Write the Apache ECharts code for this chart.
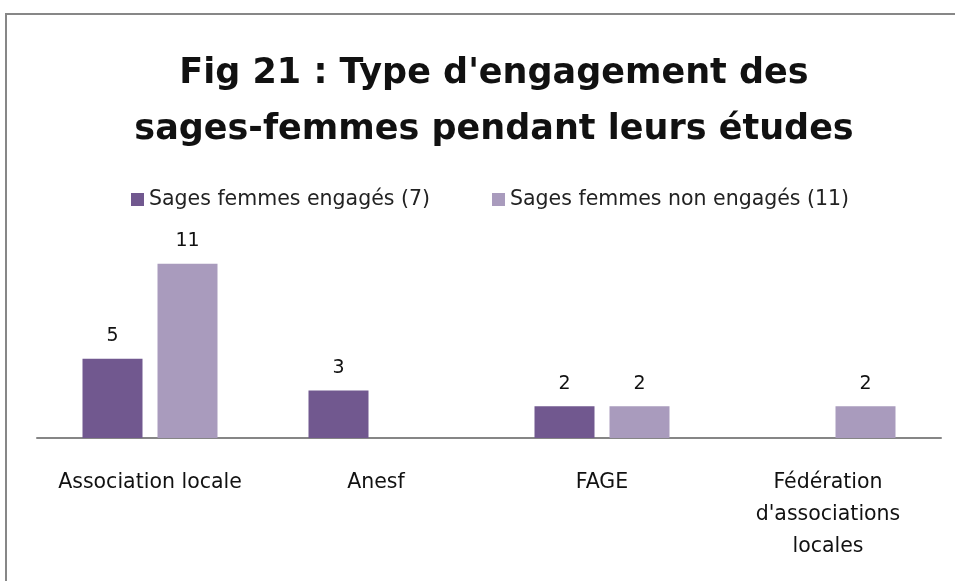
<!DOCTYPE html>
<html lang="fr">
<head>
	<meta charset="UTF-8">
	<title>Fig 21</title>
	<style>
		html, body { margin: 0; padding: 0; background: #fff; }
	</style>
</head>
<body>
	<div id="main" style="width:955px;height:581px;"></div>
<script src="https://cdn.jsdelivr.net/npm/echarts@6/dist/echarts.min.js"></script>
<script type="text/javascript">
var categories = ['Association locale', 'Anesf', 'FAGE', "Fédération\nd'associations\nlocales"];
var seriesNames = ['Sages femmes engagés (7)', 'Sages femmes non engagés (11)'];
var engages = [5, 3, 2, '-'];
var nonEngages = [11, '-', 2, 2];

var fontFam = '"DejaVu Sans", "Open Sans", sans-serif';

var labelTop = {
    show: true,
    position: 'top',
    distance: 13,
    color: '#111',
    fontSize: 19,
    fontFamily: fontFam
};

var option = {
    animation: false,
    backgroundColor: '#fff',
    title: {
        text: "Fig 21 : Type d'engagement des\nsages-femmes pendant leurs études",
        left: 489,
        top: 41,
        textAlign: 'center',
        textStyle: {
            fontFamily: fontFam,
            fontSize: 35,
            fontWeight: 'bold',
            color: '#111',
            lineHeight: 56
        }
    },
    legend: {
        data: seriesNames,
        left: 126,
        top: 184,
        itemWidth: 13,
        itemHeight: 13,
        itemGap: 62,
        icon: 'rect',
        textStyle: {
            fontFamily: fontFam,
            fontSize: 20.5,
            color: '#222'
        }
    },
    grid: {
        left: 37,
        right: 14,
        top: 248,
        bottom: 143
    },
    xAxis: {
        type: 'category',
        data: categories,
        axisTick: { show: false },
        axisLine: { lineStyle: { color: '#868686', width: 2 } },
        axisLabel: {
            interval: 0,
            margin: 29,
            fontFamily: fontFam,
            fontSize: 20.5,
            lineHeight: 32,
            color: '#111'
        }
    },
    yAxis: {
        type: 'value',
        min: 0,
        max: 12,
        show: false,
        splitLine: { show: false }
    },
    graphic: [
        {
            type: 'rect',
            shape: { x: 6, y: 14, width: 1200, height: 1200 },
            style: { fill: 'none', stroke: '#878787', lineWidth: 2 },
            silent: true
        }
    ],
    series: [
        {
            name: seriesNames[0],
            type: 'bar',
            data: engages,
            barWidth: 60,
            barGap: '25%',
            itemStyle: { color: '#71588F' },
            label: labelTop
        },
        {
            name: seriesNames[1],
            type: 'bar',
            data: nonEngages,
            barWidth: 60,
            itemStyle: { color: '#A99BBD' },
            label: labelTop
        }
    ]
};

var myChart = echarts.init(document.getElementById('main'));
myChart.setOption(option);
</script>
</body>
</html>
